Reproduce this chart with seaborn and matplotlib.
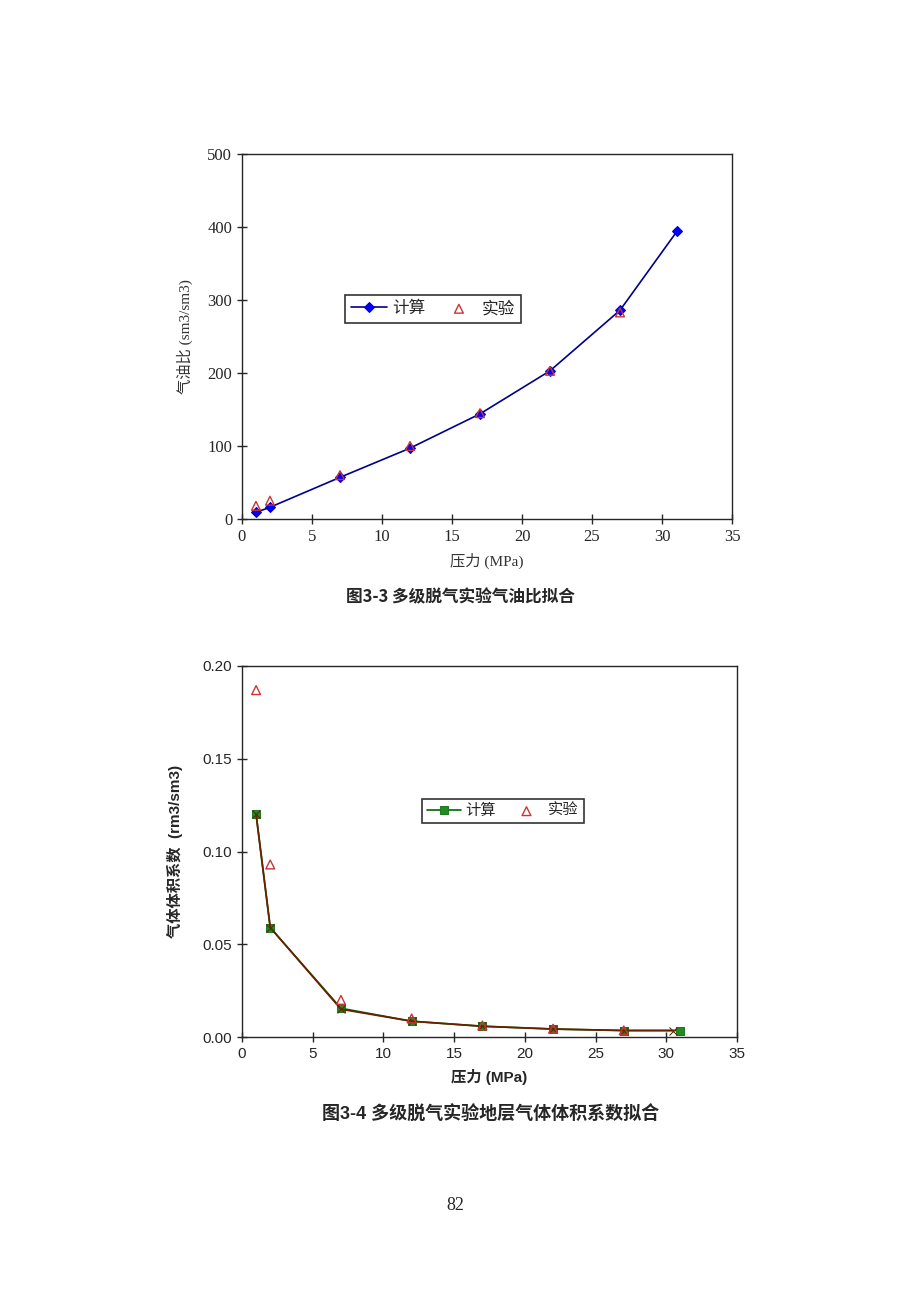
import matplotlib
matplotlib.use("Agg")
import matplotlib.pyplot as plt
import seaborn as sns
import pandas as pd

# ---- data: chart 1 (gas-oil ratio) ----
p_calc1 = [1, 2, 7, 12, 17, 22, 27, 31.1]
gor_calc = [9, 16, 57, 97, 144, 203, 286, 395]
p_exp1 = [1, 2, 7, 12, 17, 22, 27]
gor_exp = [18, 25, 60, 100, 145, 203, 283]

# ---- data: chart 2 (gas formation volume factor) ----
p_calc2 = [1, 2, 7, 12, 17, 22, 27, 31]
bg_calc = [0.120, 0.059, 0.0155, 0.0085, 0.0058, 0.0043, 0.0035, 0.0035]
p_aux2 = [1, 2, 7, 12, 17, 22, 27, 30.5]
bg_aux = [0.120, 0.059, 0.0150, 0.0085, 0.0058, 0.0043, 0.0035, 0.0035]
p_exp2 = [1, 2, 7, 12, 17, 22, 27]
bg_exp = [0.187, 0.093, 0.020, 0.010, 0.0062, 0.0045, 0.0036]

label_calc = "计算"
label_exp = "实验"

sns.set_style("ticks")
plt.rcParams["font.family"] = ["Liberation Serif", "Noto Sans CJK SC", "DejaVu Sans"]
plt.rcParams["axes.linewidth"] = 1.0

fig = plt.figure(figsize=(9.2, 13), dpi=100)

serif = ["Liberation Serif", "Noto Sans CJK SC"]
sans = ["Liberation Sans", "Noto Sans CJK SC"]

# ---------------- chart 1 ----------------
ax1 = fig.add_axes([0.263, 0.6008, 0.5327, 0.2807])
df1c = pd.DataFrame({"p": p_calc1, "v": gor_calc})
df1e = pd.DataFrame({"p": p_exp1, "v": gor_exp})
sns.lineplot(data=df1c, x="p", y="v", ax=ax1, color="#00008B", lw=1.2,
             marker="D", markersize=5, markerfacecolor="#0000FF",
             markeredgecolor="#0000CC", label=label_calc, sort=False)
sns.scatterplot(data=df1e, x="p", y="v", ax=ax1, marker="^", s=40,
                facecolors="none", edgecolor="#CC3333", linewidth=1.0,
                label=label_exp, zorder=3)
ax1.set_xlim(0, 35)
ax1.set_ylim(0, 500)
ax1.set_xticks(range(0, 36, 5))
ax1.set_yticks(range(0, 501, 100))
ax1.tick_params(direction="inout", length=7, width=1, labelsize=12)
for t in ax1.get_xticklabels() + ax1.get_yticklabels():
    t.set_fontfamily(serif)
ax1.set_xlabel("压力 (MPa)", fontsize=11, family=serif, color="#333333", labelpad=6)
ax1.set_ylabel("气油比 (sm3/sm3)", fontsize=11, family=serif, color="#333333", labelpad=10)
leg1 = ax1.legend(loc="center", bbox_to_anchor=(0.39, 0.575), ncol=2, frameon=True,
                  fancybox=False, edgecolor="black", handlelength=2.2,
                  handletextpad=0.3, columnspacing=0.9, borderpad=0.35,
                  prop={"family": serif, "size": 12})
leg1.get_frame().set_linewidth(1.2)

fig.text(0.5, 1 - 597 / 1300, "图3-3 多级脱气实验气油比拟合", ha="center", va="center",
         fontsize=12, fontweight="bold", family=["Noto Sans CJK SC"])

# ---------------- chart 2 ----------------
ax2 = fig.add_axes([0.263, 0.2023, 0.538, 0.2854])
df2c = pd.DataFrame({"p": p_calc2, "v": bg_calc})
df2a = pd.DataFrame({"p": p_aux2, "v": bg_aux})
df2e = pd.DataFrame({"p": p_exp2, "v": bg_exp})
sns.lineplot(data=df2c, x="p", y="v", ax=ax2, color="#006400", lw=1.2,
             marker="s", markersize=6, markerfacecolor="#228B22",
             markeredgecolor="#1E7A1E", label=label_calc, sort=False)
sns.lineplot(data=df2a, x="p", y="v", ax=ax2, color="#6A2000", lw=1.3,
             marker="x", markersize=6, markeredgecolor="#5A2A00",
             sort=False, legend=False)
sns.scatterplot(data=df2e, x="p", y="v", ax=ax2, marker="^", s=40,
                facecolors="none", edgecolor="#CC3333", linewidth=1.0,
                label=label_exp, zorder=3)
ax2.set_xlim(0, 35)
ax2.set_ylim(0, 0.20)
ax2.set_xticks(range(0, 36, 5))
ax2.set_yticks([0.0, 0.05, 0.10, 0.15, 0.20])
ax2.set_yticklabels(["0.00", "0.05", "0.10", "0.15", "0.20"])
ax2.tick_params(direction="inout", length=7, width=1, labelsize=11)
for t in ax2.get_xticklabels() + ax2.get_yticklabels():
    t.set_fontfamily(sans)
ax2.set_xlabel("压力 (MPa)", fontsize=11, family=sans, fontweight="bold", labelpad=6)
ax2.set_ylabel("气体体积系数  (rm3/sm3)", fontsize=11, family=sans, fontweight="bold", labelpad=14)
leg2 = ax2.legend(loc="center", bbox_to_anchor=(0.527, 0.609), ncol=2, frameon=True,
                  fancybox=False, edgecolor="black", handlelength=2.2,
                  handletextpad=0.3, columnspacing=0.9, borderpad=0.35,
                  prop={"family": serif, "size": 11})
leg2.get_frame().set_linewidth(1.2)

fig.text(0.533, 1 - 1115 / 1300, "图3-4 多级脱气实验地层气体体积系数拟合", ha="center", va="center",
         fontsize=13, fontweight="bold", family=["Liberation Sans", "Noto Sans CJK SC"])

fig.text(0.495, 1 - 1205 / 1300, "82", ha="center", va="center", fontsize=13,
         family=["Liberation Serif"])

fig.savefig("out.png", dpi=100)
